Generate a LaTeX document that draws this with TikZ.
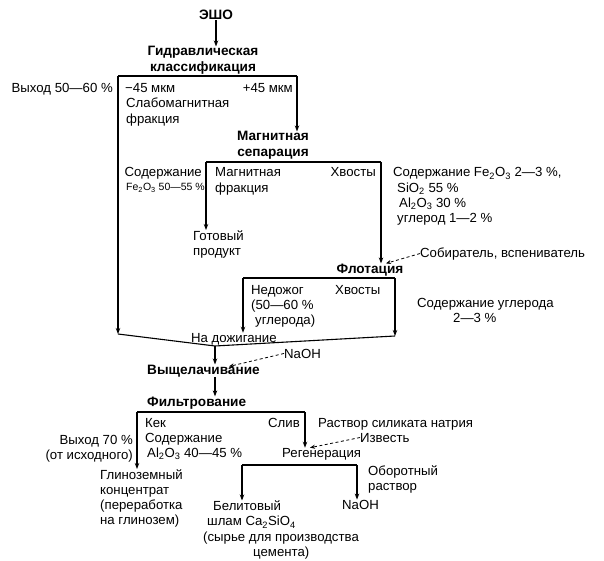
\documentclass[tikz,border=0pt]{standalone}
\usepackage{fontspec}
\setmainfont{Liberation Sans}
\usetikzlibrary{arrows.meta}
\begin{document}
\begin{tikzpicture}[x=1pt,y=-1pt,
  txt/.style={inner sep=0pt, anchor=base west, align=left, font=\fontsize{13.2}{15.3}\selectfont},
  proc/.style={txt, font=\fontsize{13.6}{15.3}\selectfont\bfseries},
  small/.style={txt, font=\fontsize{10.5}{13}\selectfont},
  flow/.style={line width=1.1pt},
  arr/.style={flow, -{Stealth[length=6pt,width=4.5pt]}},
  feed/.style={line width=0.8pt, dashed, dash pattern=on 3pt off 2.5pt, -{Stealth[length=5pt,width=4pt]}}
]
\useasboundingbox (0,0) rectangle (604,561);

% process steps (multi-line nodes are placed by the baseline of their last line)
\node[proc, anchor=base] (esho) at (216,20) {ЭШО};
\node[proc, anchor=base, align=center] (gidr) at (203,71.3) {Гидравлическая\\классификация};
\node[proc, anchor=base, align=center] (magsep) at (273,156.3) {Магнитная\\сепарация};
\node[proc, anchor=base] (flot) at (370,273) {Флотация};
\node[proc] (vysh) at (147,374) {Выщелачивание};
\node[proc] (filt) at (147,406) {Фильтрование};
\node[txt] (regen) at (282,457) {Регенерация};

% branch labels and products
\node[txt, anchor=base east] (vyhod1) at (113,93) {Выход 50—60 \%};
\node[txt] (m45) at (125,93) {−45 мкм};
\node[txt, anchor=base east] (p45) at (293,93) {+45 мкм};
\node[txt] (slabo) at (126,123.3) {Слабомагнитная\\фракция};
\node[txt] (magfr) at (215,192.3) {Магнитная\\фракция};
\node[txt, anchor=base east] (hv1) at (376,177) {Хвосты};
\node[txt, anchor=base east] (sod1) at (202,177) {Содержание};
\node[small, anchor=base east] (sod1b) at (205,191) {Fe\textsubscript{2}O\textsubscript{3} 50—55 \%};
\node[txt] (sod2) at (393,222.9) {Содержание Fe\textsubscript{2}O\textsubscript{3} 2—3 \%,\\
  \hspace*{4pt}SiO\textsubscript{2} 55 \%\\
  \hspace*{6pt}Al\textsubscript{2}O\textsubscript{3} 30 \%\\
  \hspace*{4pt}углерод 1—2 \%};
\node[txt] (gotov) at (193,255.3) {Готовый\\продукт};
\node[txt] (sobir) at (420,257) {Собиратель, вспениватель};
\node[txt] (nedo) at (251,324.6) {Недожог\\(50—60 \%\\\hspace*{4pt}углерода)};
\node[txt] (hv2) at (335,294) {Хвосты};
\node[txt] (sodU) at (417,322.3) {Содержание углерода\\\hspace*{36pt}2—3 \%};
\node[txt] (nadozh) at (191,342) {На дожигание};
\node[txt] (naoh1) at (284,358) {NaOH};
\node[txt] (kek) at (145,457.6) {Кек\\Содержание\\\hspace*{2pt}Al\textsubscript{2}O\textsubscript{3} 40—45 \%};
\node[txt, anchor=base east] (sliv) at (300,427) {Слив};
\node[txt, anchor=base east, align=right] (vyh70) at (133,459.3) {Выход 70 \%\\(от исходного)};
\node[txt] (rastv) at (318,427) {Раствор силиката натрия};
\node[txt] (izv) at (360,442) {Известь};
\node[txt] (oborot) at (368,490.3) {Оборотный\\раствор};
\node[txt] (naoh2) at (342,509) {NaOH};
\node[txt] (glin) at (100,524.9) {Глиноземный\\концентрат\\(переработка\\на глинозем)};
\node[txt] (belit) at (203,556.4) {\hspace*{10pt}Белитовый\\\hspace*{4pt}шлам Ca\textsubscript{2}SiO\textsubscript{4}\\(сырье для производства\\\hspace*{50pt}цемента)};

% junction points of the flow lines
\coordinate (g1L) at (118,76);  \coordinate (g1R) at (297,76);
\coordinate (m1L) at (206,162); \coordinate (m1R) at (381,162);
\coordinate (f1L) at (243,278); \coordinate (f1R) at (395,278);
\coordinate (vL) at (118,334);  \coordinate (vM) at (215,346); \coordinate (vR) at (395,336);
\coordinate (k1L) at (137,412); \coordinate (k1R) at (305,412);
\coordinate (r1L) at (242,465); \coordinate (r1R) at (357,465);

% ЭШО to classification
\draw[arr] (esho.south) -- (esho.south |- gidr.north);
% classification split
\draw[flow] (g1L) -- (g1R);
\draw[arr] (g1R) -- (g1R |- magsep.north);
\draw[arr] (g1L) -- (vL);
% magnetic separation split
\draw[flow] (m1L) -- (m1R);
\draw[arr] (m1L) -- (m1L |- gotov.north);
\draw[arr] (m1R) -- (m1R |- flot.north);
% flotation split
\draw[flow] (f1L) -- (f1R);
\draw[arr] (f1L) -- (f1L |- nadozh.north);
\draw[arr] (f1R) -- (vR);
% streams joined for leaching
\draw[flow] (vL) -- (vM) -- (vR);
\draw[arr] (vM) -- (vM |- vysh.north);
\draw[arr] (vM |- vysh.south) -- (vM |- filt.north);
% filtration split
\draw[flow] (k1L) -- (k1R);
\draw[arr] (k1L) -- (k1L |- glin.north);
\draw[arr] (k1R) -- (k1R |- regen.north);
% regeneration split
\draw[flow] (r1L) -- (r1R);
\draw[arr] (r1L) -- (r1L |- belit.north);
\draw[arr] (r1R) -- (r1R |- naoh2.north);

% reagent feeds
\draw[feed] (sobir.west) -- ([xshift=5pt]m1R |- flot.north);
\draw[feed] (naoh1.west) -- ([xshift=14pt,yshift=-2pt]vM |- vysh.north);
\draw[feed] (izv.west) -- ([xshift=5pt]k1R |- regen.north);
\end{tikzpicture}
\end{document}
